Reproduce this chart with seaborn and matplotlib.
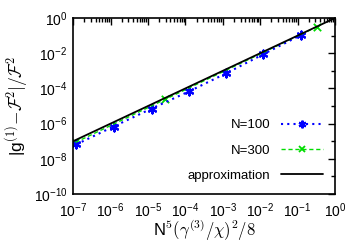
import numpy as np
import pandas as pd
import matplotlib
matplotlib.use("Agg")
import matplotlib.pyplot as plt
import matplotlib.ticker as mticker
from matplotlib.lines import Line2D
import seaborn as sns

# data
x_n100 = [1.2e-7, 1.2e-6, 1.26e-5, 1.26e-4, 1.23e-3, 1.2e-2, 1.25e-1]
y_n100 = [6.5e-8, 6.8e-7, 7.2e-6, 6.8e-5, 7.2e-4, 8.7e-3, 1.1e-1]
x_n300 = [1.15e-7, 2.9e-5, 3.3e-1]
y_n300 = [8.5e-8, 2.4e-5, 3.2e-1]
x_approx = [1e-7, 1e0]
y_approx = [1e-7, 1e0]
labels = ["N=100", "N=300", "approximation"]

sns.set_style("white")
plt.rcParams['font.family'] = ['Liberation Sans', 'DejaVu Sans']
plt.rcParams['mathtext.fontset'] = 'cm'
plt.rcParams['text.color'] = 'black'
plt.rcParams['axes.labelcolor'] = 'black'
plt.rcParams['xtick.color'] = 'black'
plt.rcParams['ytick.color'] = 'black'

fig = plt.figure(figsize=(3.5, 2.44), dpi=100)
ax = fig.add_axes([0.209, 0.205, 0.748, 0.721])

df100 = pd.DataFrame({"x": x_n100, "y": y_n100})
df300 = pd.DataFrame({"x": x_n300, "y": y_n300})
dfa = pd.DataFrame({"x": x_approx, "y": y_approx})

green = "#00dd00"
blue = "#0000ff"
ls300 = (0, (3, 2))
ls100 = (0, (1, 2))
star = (6, 2, 0)

sns.lineplot(data=df300, x="x", y="y", ax=ax, color=green, linestyle=ls300, linewidth=1.0)
sns.scatterplot(data=df300, x="x", y="y", ax=ax, color=green, marker="x", s=28, linewidth=1.3)
sns.lineplot(data=df100, x="x", y="y", ax=ax, color=blue, linestyle=ls100, linewidth=1.5)
sns.scatterplot(data=df100, x="x", y="y", ax=ax, color=blue, marker=star, s=32,
                linewidth=1.6, edgecolor=blue)
sns.lineplot(data=dfa, x="x", y="y", ax=ax, color="black", linewidth=1.3)

ax.set_xscale("log")
ax.set_yscale("log")
ax.set_xlim(1e-7, 1e0)
ax.set_ylim(1e-10, 1e0)
ax.set_xticks([10.0**k for k in range(-7, 1)])
ax.set_yticks([10.0**k for k in range(-10, 1, 2)])
ax.xaxis.set_minor_locator(mticker.LogLocator(base=10, subs=np.arange(2, 10), numticks=20))
ax.yaxis.set_minor_locator(mticker.FixedLocator([10.0**k for k in range(-9, 0, 2)]))
ax.xaxis.set_minor_formatter(mticker.NullFormatter())
ax.yaxis.set_minor_formatter(mticker.NullFormatter())
ax.tick_params(which="both", direction="in", top=True, right=True, labelsize=10)
ax.tick_params(axis="x", pad=5)
ax.tick_params(axis="y", pad=4)
ax.tick_params(which="major", length=5, width=1)
ax.tick_params(which="minor", length=3, width=1)
for s in ax.spines.values():
    s.set_linewidth(1.2)
    s.set_color("black")

ax.set_xlabel(r"N$^5(\gamma^{(3)}/\chi)^2/8$", fontsize=12, labelpad=-1)
ax.set_ylabel(r"|g$^{(1)}$$-\mathcal{F}^2|/\mathcal{F}^2$", fontsize=12.5, labelpad=3)

handles = [
    Line2D([], [], color=blue, linestyle=ls100, linewidth=1.5, marker=star,
           markersize=5.5, markeredgewidth=1.6),
    Line2D([], [], color=green, linestyle=ls300, linewidth=1.0, marker="x",
           markersize=5, markeredgewidth=1.3),
    Line2D([], [], color="black", linewidth=1.3),
]
ax.legend(handles, labels, loc="lower right", frameon=False,
          markerfirst=False, fontsize=9.5, handlelength=3.2, labelspacing=1.0,
          borderaxespad=0.5, handletextpad=0.8)

fig.savefig("out.png", dpi=100)
